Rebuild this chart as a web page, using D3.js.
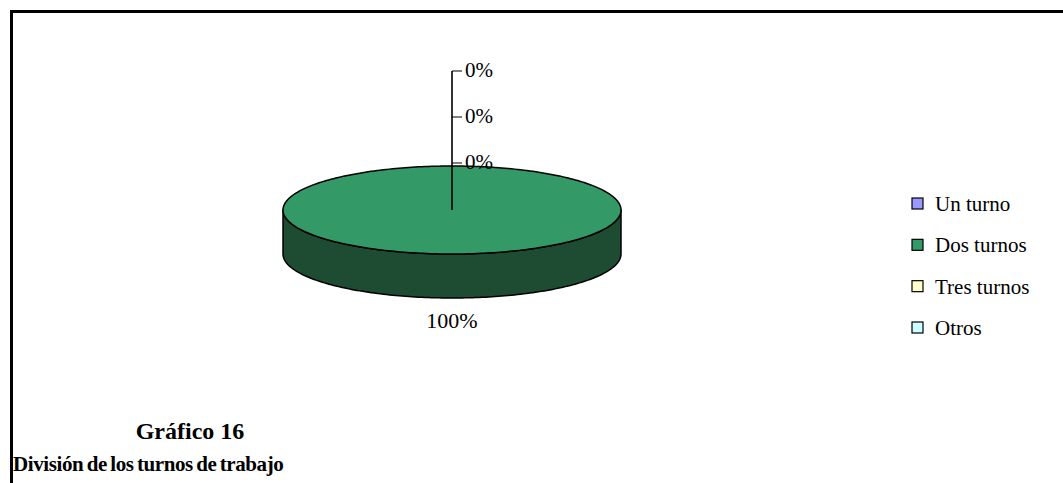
<!DOCTYPE html>
<html>
<head>
<meta charset="utf-8">
<script src="https://cdn.jsdelivr.net/npm/d3@7"></script>
<style>
  html, body { margin: 0; padding: 0; background: #fff; }
  svg { display: block; }
  text { font-family: "Liberation Serif", "Times New Roman", serif; fill: #000; }
</style>
</head>
<body>
<svg id="chart" width="1063" height="483"></svg>
<script>
// Shift distribution
const categories = ["Un turno", "Dos turnos", "Tres turnos", "Otros"];
const values = [0, 100, 0, 0];
const colors = ["#9999FF", "#339966", "#FFFFCC", "#CCFFFF"];
const sideColors = ["#4d4d80", "#1d4c33", "#808066", "#668080"];
const titleLines = ["Gráfico 16", "División de los turnos de trabajo"];

const W = 1063, H = 483;
const svg = d3.select("#chart");

// outer frame (top and left edges visible)
svg.append("path")
  .attr("d", `M11.5,${H + 5} L11.5,11.5 L${W + 5},11.5`)
  .attr("fill", "none").attr("stroke", "#000").attr("stroke-width", 3);

// elliptical pie geometry
const cx = 452, cy = 210, rx = 169, ry = 44, depth = 44;
const total = d3.sum(values);
const pct = d3.format(".0%");

const pie = d3.pie().sort(null).value(d => d.v);
const arcs = pie(values.map((v, i) => ({ v, i })));

// point on the rim for a pie angle (0 = top, clockwise)
const rim = (a, dy = 0) => [cx + rx * Math.sin(a), cy - ry * Math.cos(a) + dy];
const sample = (a0, a1, dy = 0) => {
  const n = Math.max(2, Math.ceil(Math.abs(a1 - a0) / 0.02));
  return d3.range(n + 1).map(k => rim(a0 + (a1 - a0) * k / n, dy));
};
const line = d3.line();

// side walls: only the front half (angles between PI/2 and 3PI/2) is visible
const sideG = svg.append("g");
arcs.forEach(d => {
  if (d.endAngle - d.startAngle <= 0) return;
  const a0 = Math.max(d.startAngle, Math.PI / 2);
  const a1 = Math.min(d.endAngle, 3 * Math.PI / 2);
  if (a1 <= a0) return;
  const top = sample(a0, a1);
  const bot = sample(a1, a0, depth);
  sideG.append("path")
    .attr("d", line(top.concat(bot)) + "Z")
    .attr("fill", sideColors[d.data.i])
    .attr("stroke", "#000").attr("stroke-width", 1.5).attr("stroke-linejoin", "round");
});

// top faces
const topG = svg.append("g");
arcs.forEach(d => {
  const span = d.endAngle - d.startAngle;
  if (span <= 0) return;
  let dPath;
  if (span >= 2 * Math.PI - 1e-9) {
    dPath = line(sample(0, 2 * Math.PI)) + "Z";
  } else {
    dPath = line([[cx, cy]].concat(sample(d.startAngle, d.endAngle))) + "Z";
  }
  topG.append("path")
    .attr("d", dPath)
    .attr("fill", colors[d.data.i])
    .attr("stroke", "#000").attr("stroke-width", 1.5).attr("stroke-linejoin", "round");
});

// labels: empty slices are stacked along a leader rising from the centre
const labelG = svg.append("g");
const zeroArcs = arcs.filter(d => d.value === 0);
const leaderTop = 71, leaderStep = 46;
if (zeroArcs.length) {
  labelG.append("line")
    .attr("x1", cx).attr("y1", cy).attr("x2", cx).attr("y2", leaderTop)
    .attr("stroke", "#000").attr("stroke-width", 1.6);
  zeroArcs.forEach((d, k) => {
    const y = leaderTop + k * leaderStep;
    labelG.append("line")
      .attr("x1", cx).attr("y1", y).attr("x2", cx + 10).attr("y2", y)
      .attr("stroke", "#000").attr("stroke-width", 1);
    labelG.append("text")
      .attr("x", cx + 13).attr("y", y + 6)
      .attr("font-size", 21)
      .text(pct(d.value / total));
  });
}
arcs.filter(d => d.value > 0).forEach(d => {
  const mid = (d.startAngle + d.endAngle) / 2;
  // full slice: label sits below the front wall
  const p = (d.endAngle - d.startAngle) >= 2 * Math.PI - 1e-9 ? [cx, cy + ry + depth + 30] : rim(mid, depth + 30);
  labelG.append("text")
    .attr("x", p[0]).attr("y", p[1])
    .attr("text-anchor", "middle")
    .attr("font-size", 22)
    .text(pct(d.value / total));
});

// legend
const legY = d3.scalePoint().domain(categories).range([204, 328]);
const legG = svg.append("g");
categories.forEach((c, i) => {
  const y = legY(c);
  legG.append("rect")
    .attr("x", 912).attr("y", y - 6).attr("width", 11).attr("height", 11)
    .attr("fill", colors[i]).attr("stroke", "#000").attr("stroke-width", 1.2);
  legG.append("text")
    .attr("x", 935).attr("y", y + 7)
    .attr("font-size", 21)
    .text(c);
});

// caption
svg.append("text")
  .attr("x", 190).attr("y", 439)
  .attr("text-anchor", "middle").attr("font-weight", "bold").attr("font-size", 24)
  .text(titleLines[0]);
svg.append("text")
  .attr("x", 13).attr("y", 471)
  .attr("font-weight", "bold").attr("font-size", 21)
  .attr("letter-spacing", -0.4)
  .attr("word-spacing", -1.5)
  .text(titleLines[1]);
</script>
</body>
</html>
